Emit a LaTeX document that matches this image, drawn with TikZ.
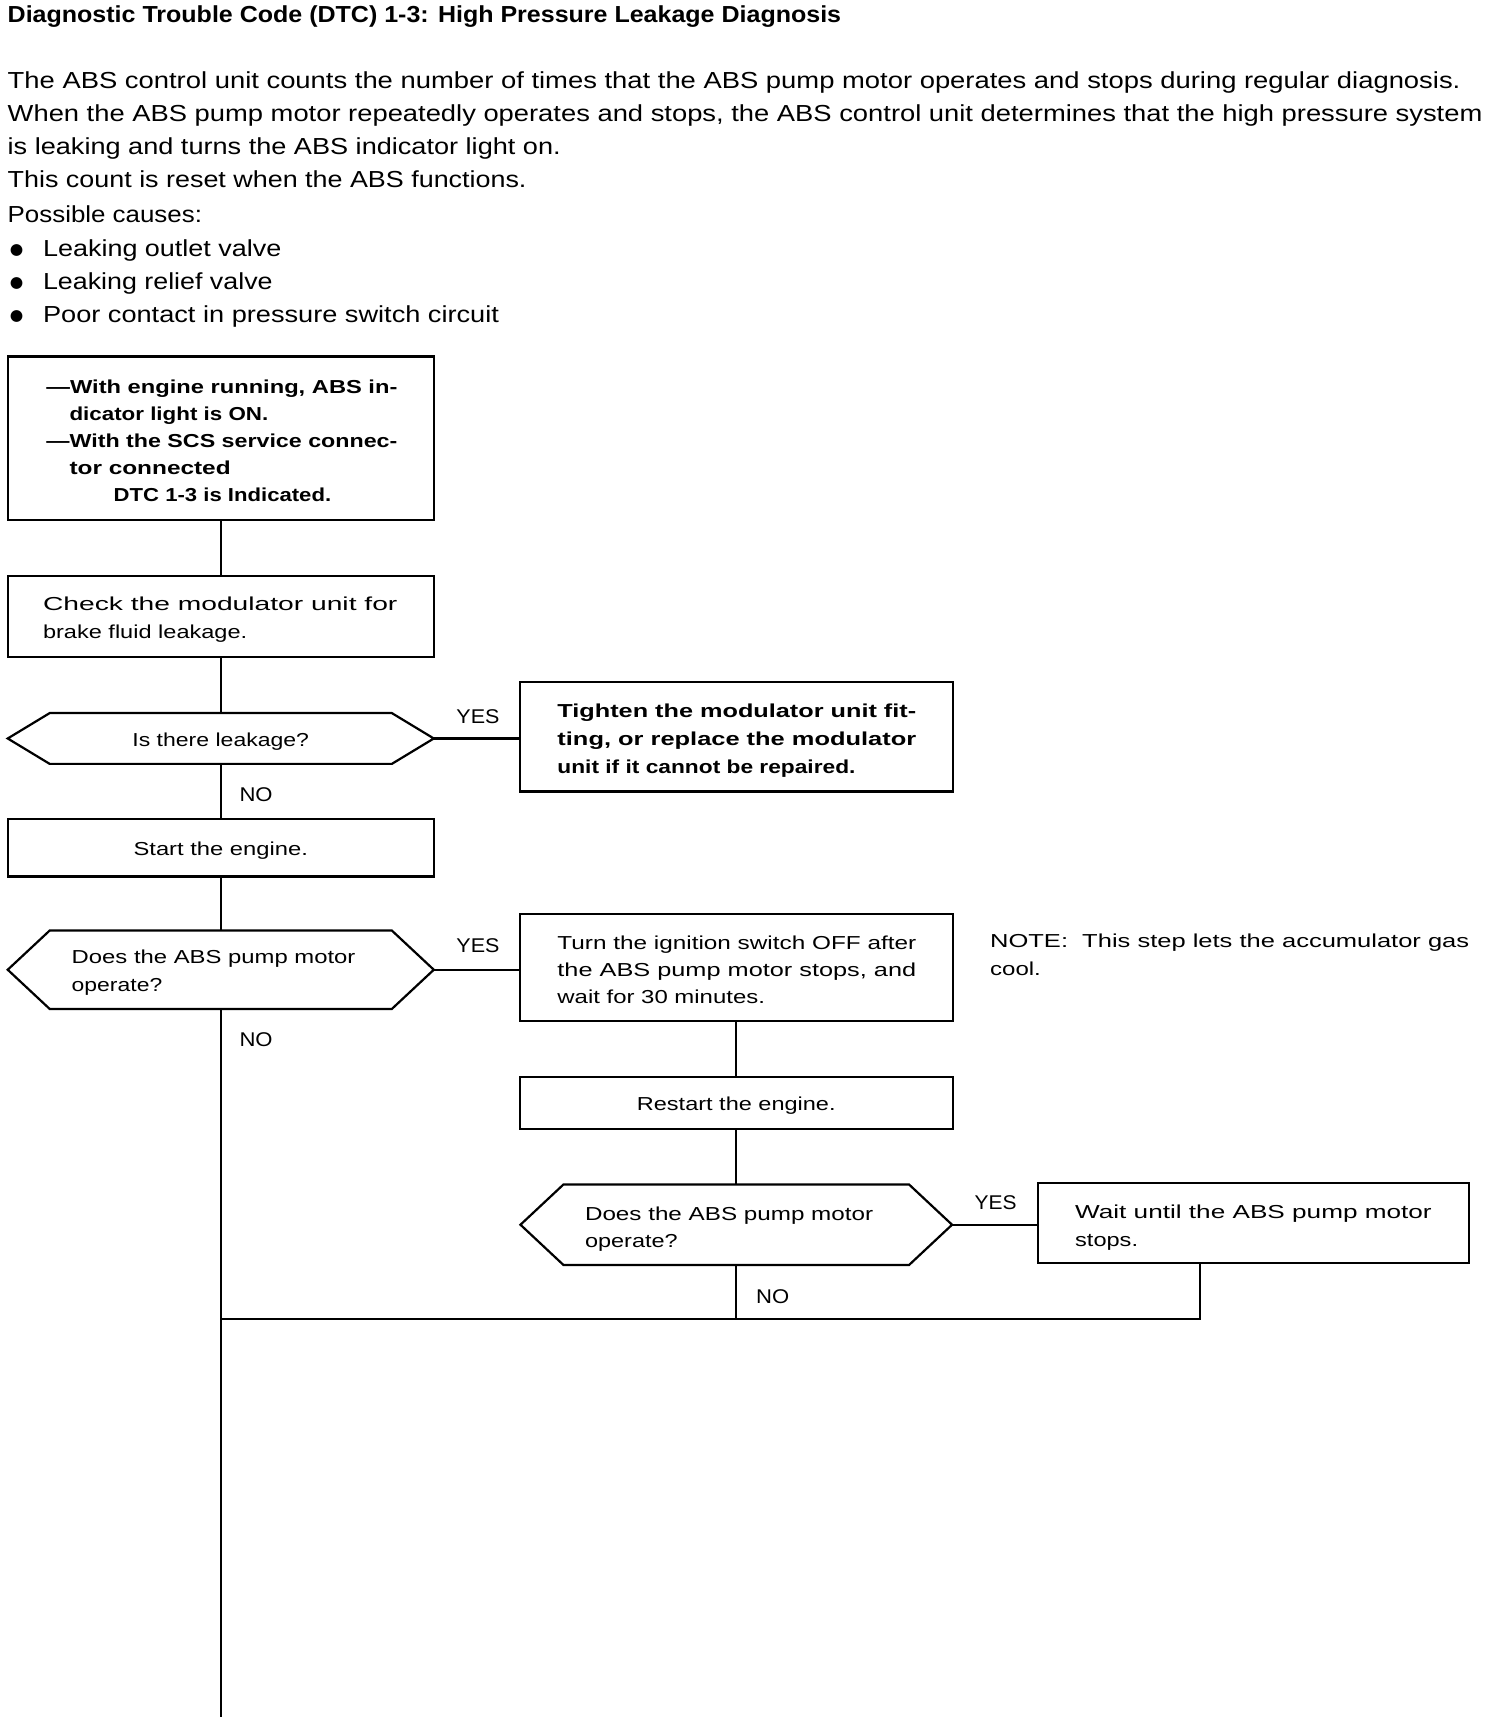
\documentclass[tikz,border=0pt]{standalone}
\usepackage{fontspec}
\usepackage{graphicx}
\setmainfont{Liberation Sans}
\newfontfamily\dejavu{DejaVu Sans}
\usetikzlibrary{calc}
\newcommand\fw[2]{\resizebox{#1pt}{\height}{#2}}
\newcommand\hexdraw[2]{\draw[conn] (#1.west) -- ($(#1.north west)+(#2,0)$) -- ($(#1.north east)+(-#2,0)$) -- (#1.east) -- ($(#1.south east)+(-#2,0)$) -- ($(#1.south west)+(#2,0)$) -- cycle;}
\begin{document}
\begin{tikzpicture}[x=0.5pt,y=-0.5pt,
  box/.style={draw, line width=1pt, inner sep=0pt, outer sep=0pt, rectangle},
  hexbox/.style={inner sep=0pt, outer sep=0pt, rectangle},
  conn/.style={line width=1pt},
  txt/.style={inner sep=0pt, outer sep=0pt, anchor=mid west, font=\fontsize{10.5}{12}\selectfont},
  btxt/.style={inner sep=0pt, outer sep=0pt, anchor=mid west, font=\fontsize{8.5}{10}\selectfont},
  bbtxt/.style={inner sep=0pt, outer sep=0pt, anchor=mid west, font=\fontsize{8.5}{10}\selectfont\bfseries},
  ctxt/.style={inner sep=0pt, outer sep=0pt, anchor=mid, font=\fontsize{8.5}{10}\selectfont},
  lbl/.style={inner sep=0pt, outer sep=0pt, anchor=mid, font=\fontsize{9}{10}\selectfont},
  bul/.style={inner sep=0pt, outer sep=0pt, anchor=center, font=\dejavu\fontsize{7}{8}\selectfont},
]
\useasboundingbox (0,0) rectangle (1348,1560);

% header text
\node[txt, font=\fontsize{10.5}{12}\selectfont\bfseries] (title) at (7,15) {\fw{377.5}{Diagnostic Trouble Code (DTC) 1-3: High Pressure Leakage Diagnosis}};
\node[txt] (p1) at (7,75) {\fw{658}{The ABS control unit counts the number of times that the ABS pump motor operates and stops during regular diagnosis.}};
\node[txt] (p2) at (7,105) {\fw{668}{When the ABS pump motor repeatedly operates and stops, the ABS control unit determines that the high pressure system}};
\node[txt] (p3) at (7,135) {\fw{250.5}{is leaking and turns the ABS indicator light on.}};
\node[txt] (p4) at (7,165) {\fw{235}{This count is reset when the ABS functions.}};
\node[txt] (p5) at (7,196) {\fw{88}{Possible causes:}};
\node[bul] (u1) at (15,227) {●};
\node[bul] (u2) at (15,257) {●};
\node[bul] (u3) at (15,287) {●};
\node[txt] (c1) at (39,227) {\fw{108}{Leaking outlet valve}};
\node[txt] (c2) at (39,257) {\fw{104}{Leaking relief valve}};
\node[txt] (c3) at (39,287) {\fw{206.5}{Poor contact in pressure switch circuit}};

% boxes
\node[box, minimum width=193pt, minimum height=74pt] (b1) at (200,397) {};
\node[box, minimum width=193pt, minimum height=36.5pt] (b2) at (200,558.5) {};
\node[hexbox, minimum width=193pt, minimum height=23pt] (d1) at (200,669) {};
\node[box, minimum width=196pt, minimum height=49.5pt] (b3) at (667,667.5) {};
\node[box, minimum width=193pt, minimum height=26pt] (b4) at (200,768) {};
\node[hexbox, minimum width=193pt, minimum height=35.5pt] (d2) at (200,878.5) {};
\node[box, minimum width=196pt, minimum height=48.5pt] (b5) at (667,876.5) {};
\node[box, minimum width=196pt, minimum height=23.5pt] (b6) at (667,999.5) {};
\node[hexbox, minimum width=195.5pt, minimum height=36.5pt] (d3) at (667,1109.5) {};
\node[box, minimum width=195.5pt, minimum height=36pt] (b7) at (1135.5,1108) {};
\hexdraw{d1}{38}
\hexdraw{d2}{38}
\hexdraw{d3}{39}

% box texts
\node[bbtxt] (t11) at (42,351) {\fw{159}{—With engine running, ABS in-}};
\node[bbtxt] (t12) at (63,376) {\fw{90}{dicator light is ON.}};
\node[bbtxt] (t13) at (42,400) {\fw{159}{—With the SCS service connec-}};
\node[bbtxt] (t14) at (63,425) {\fw{73}{tor connected}};
\node[bbtxt] (t15) at (103,449) {\fw{98.5}{DTC 1-3 is Indicated.}};

\node[btxt] (t21) at (39,548) {\fw{160.5}{Check the modulator unit for}};
\node[btxt] (t22) at (39,573) {\fw{92.5}{brake fluid leakage.}};

\node[ctxt] (t31) at (200,671) {\fw{80}{Is there leakage?}};

\node[bbtxt] (t41) at (505,645) {\fw{162.5}{Tighten the modulator unit fit-}};
\node[bbtxt] (t42) at (505,670) {\fw{162.5}{ting, or replace the modulator}};
\node[bbtxt] (t43) at (505,695) {\fw{135}{unit if it cannot be repaired.}};

\node[ctxt] (t51) at (200,770) {\fw{79}{Start the engine.}};

\node[btxt] (t61) at (65,868) {\fw{128.5}{Does the ABS pump motor}};
\node[btxt] (t62) at (65,893) {\fw{41}{operate?}};

\node[btxt] (t71) at (505,855) {\fw{162.5}{Turn the ignition switch OFF after}};
\node[btxt] (t72) at (505,879) {\fw{162.5}{the ABS pump motor stops, and}};
\node[btxt] (t73) at (505,904) {\fw{94}{wait for 30 minutes.}};

\node[btxt] (n1) at (897,853) {\fw{217}{NOTE:\ \ This step lets the accumulator gas}};
\node[btxt] (n2) at (897,878) {\fw{23}{cool.}};

\node[ctxt] (t81) at (667,1001) {\fw{90}{Restart the engine.}};

\node[btxt] (t91) at (530,1100) {\fw{130.5}{Does the ABS pump motor}};
\node[btxt] (t92) at (530,1125) {\fw{42}{operate?}};

\node[btxt] (t101) at (974,1099) {\fw{161.5}{Wait until the ABS pump motor}};
\node[btxt] (t102) at (974,1124) {\fw{28.5}{stops.}};

% labels
\node[lbl] (y1) at (433,650) {\fw{19.5}{YES}};
\node[lbl] (y2) at (433,858) {\fw{19.5}{YES}};
\node[lbl] (y3) at (902,1090) {\fw{19}{YES}};
\node[lbl] (no1) at (232,721) {\fw{15}{NO}};
\node[lbl] (no2) at (232,943) {\fw{15}{NO}};
\node[lbl] (no3) at (700,1176) {\fw{15}{NO}};

% connectors
\coordinate (endpt) at (200,1555);
\coordinate (j1) at (200,1195);
\coordinate (k) at (1087,1195);
\draw[conn] (b1.south) -- (b2.north);
\draw[conn] (b2.south) -- (d1.north);
\draw[conn] (d1.south) -- (b4.north);
\draw[conn] (b4.south) -- (d2.north);
\draw[conn] (d2.south) -- (endpt);
\draw[conn] (d1.east) -- (d1.east -| b3.west);
\draw[conn] (d2.east) -- (d2.east -| b5.west);
\draw[conn] (b5.south) -- (b6.north);
\draw[conn] (b6.south) -- (d3.north);
\draw[conn] (d3.east) -- (d3.east -| b7.west);
\draw[conn] (d3.south) -- (d3.south |- j1);
\draw[conn] (b7.south -| k) -- (k) -- (j1);
\end{tikzpicture}
\end{document}
